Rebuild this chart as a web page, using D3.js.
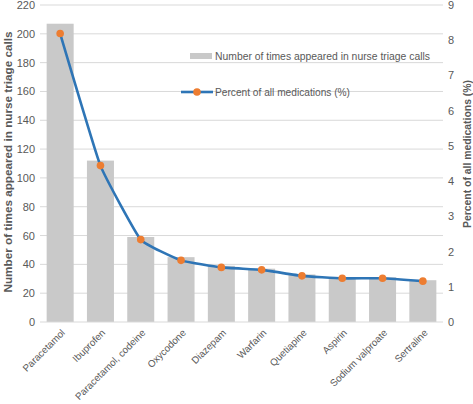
<!DOCTYPE html>
<html><head><meta charset="utf-8">
<script src="https://cdn.jsdelivr.net/npm/d3@7"></script>
<style>body{margin:0;background:#fff}svg{display:block}text{font-family:"Liberation Sans",Arial,sans-serif;fill:#595959}</style>
</head><body>
<svg id="c" width="473" height="404"></svg>
<script>
const categories = ["Paracetamol","Ibuprofen","Paracetamol, codeine","Oxycodone","Diazepam","Warfarin","Quetiapine","Aspirin","Sodium valproate","Sertraline"];
const counts = [207,112,59,45,39,37,33,31,31,29];
const percents = [8.19,4.44,2.34,1.75,1.55,1.48,1.31,1.24,1.24,1.16];
const leftTicks = [0,20,40,60,80,100,120,140,160,180,200,220];
const rightTicks = [0,1,2,3,4,5,6,7,8,9];
const seriesNames = ["Number of times appeared in nurse triage calls","Percent of all medications (%)"];
const axisTitles = ["Number of times appeared in nurse triage calls","Percent of all medications (%)"];

const svg = d3.select("#c");
const m = {left:40, right:443, top:5, bottom:322};
const x = d3.scaleBand().domain(categories).range([m.left,m.right]).paddingInner(0.33).paddingOuter(0.165);
const yL = d3.scaleLinear().domain([0,220]).range([m.bottom,m.top]);
const yR = d3.scaleLinear().domain([0,9]).range([m.bottom,m.top]);

// gridlines
svg.append("g").selectAll("line").data(leftTicks.filter(d=>d>0)).join("line")
  .attr("x1",m.left).attr("x2",m.right).attr("y1",d=>yL(d)).attr("y2",d=>yL(d))
  .attr("stroke","#d9d9d9").attr("stroke-width",1);

// bars
svg.append("g").selectAll("rect").data(counts).join("rect")
  .attr("x",(d,i)=>x(categories[i])).attr("width",x.bandwidth())
  .attr("y",d=>yL(d)).attr("height",d=>yL(0)-yL(d)).attr("fill","#c9c9c9");

// baseline
svg.append("line").attr("x1",m.left).attr("x2",m.right).attr("y1",yL(0)).attr("y2",yL(0)).attr("stroke","#d9d9d9");

// left axis
const gL = svg.append("g").attr("transform",`translate(${m.left-4},0)`)
  .call(d3.axisLeft(yL).tickValues(leftTicks).tickSize(0).tickPadding(1));
gL.select(".domain").remove();
gL.selectAll("text").style("font-size","11px").attr("fill","#595959");

// right axis
const gR = svg.append("g").attr("transform",`translate(${m.right+4},0)`)
  .call(d3.axisRight(yR).tickValues(rightTicks).tickSize(0).tickPadding(1));
gR.select(".domain").remove();
gR.selectAll("text").style("font-size","11px").attr("fill","#595959");

// x labels
svg.append("g").selectAll("text").data(categories).join("text")
  .attr("transform",d=>`translate(${x(d)+x.bandwidth()/2+3},${m.bottom+9}) rotate(-45)`)
  .attr("text-anchor","end").attr("dy","0.35em").style("font-size","9.8px").text(d=>d);

// line
const pts = percents.map((p,i)=>[x(categories[i])+x.bandwidth()/2, yR(p)]);
svg.append("path").attr("d",d3.line().curve(d3.curveCardinal.tension(0.65))(pts))
  .attr("fill","none").attr("stroke","#2e75b6").attr("stroke-width",2.6);
svg.append("g").selectAll("circle").data(pts).join("circle")
  .attr("cx",d=>d[0]).attr("cy",d=>d[1]).attr("r",3.8).attr("fill","#ed7d31");

// axis titles
svg.append("text").attr("transform",`translate(12,162) rotate(-90)`).attr("text-anchor","middle")
  .style("font-size","11px").style("font-weight","bold").attr("textLength",261).attr("lengthAdjust","spacingAndGlyphs").text(axisTitles[0]);
svg.append("text").attr("transform",`translate(471,154) rotate(-90)`).attr("text-anchor","middle")
  .style("font-size","11px").style("font-weight","bold").attr("textLength",148).attr("lengthAdjust","spacingAndGlyphs").text(axisTitles[1]);

// legend
const lg = svg.append("g");
lg.append("rect").attr("x",190).attr("y",53).attr("width",22).attr("height",6).attr("fill","#c9c9c9");
lg.append("text").attr("x",215).attr("y",56).attr("dy","0.35em").style("font-size","10px")
  .attr("textLength",215).attr("lengthAdjust","spacingAndGlyphs").text(seriesNames[0]);
lg.append("line").attr("x1",181).attr("x2",213).attr("y1",92).attr("y2",92).attr("stroke","#2e75b6").attr("stroke-width",2.6);
lg.append("circle").attr("cx",197).attr("cy",92).attr("r",3.8).attr("fill","#ed7d31");
lg.append("text").attr("x",215).attr("y",92).attr("dy","0.35em").style("font-size","10px")
  .attr("textLength",135).attr("lengthAdjust","spacingAndGlyphs").text(seriesNames[1]);
</script>
</body></html>
